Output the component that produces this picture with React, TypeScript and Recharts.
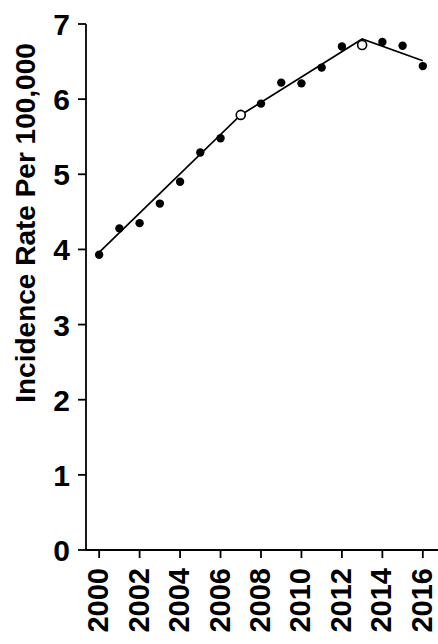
import React from 'react';
import { ScatterChart, Scatter, XAxis, YAxis } from 'recharts';

// observed incidence rates per year
const years = [2000, 2001, 2002, 2003, 2004, 2005, 2006, 2007, 2008, 2009, 2010, 2011, 2012, 2013, 2014, 2015, 2016];
const rates = [3.93, 4.28, 4.35, 4.61, 4.9, 5.29, 5.48, 5.79, 5.94, 6.22, 6.21, 6.42, 6.7, 6.72, 6.76, 6.71, 6.44];
// years drawn as open circles (joinpoints)
const openYears = [2007, 2013];

// fitted joinpoint segments
const fitYears = [2000, 2007, 2013, 2016];
const fitRates = [3.96, 5.79, 6.8, 6.51];

const xTicks = [2000, 2002, 2004, 2006, 2008, 2010, 2012, 2014, 2016];
const yTicks = [0, 1, 2, 3, 4, 5, 6, 7];
const yLabel = 'Incidence Rate Per 100,000';

const filled = years
  .map((year, i) => ({ year, rate: rates[i] }))
  .filter((d) => !openYears.includes(d.year));
const open = years
  .map((year, i) => ({ year, rate: rates[i] }))
  .filter((d) => openYears.includes(d.year));
const fit = fitYears.map((year, i) => ({ year, rate: fitRates[i] }));

const FONT = 'Liberation Sans, Arial, Helvetica, sans-serif';

const XTick = ({ x, y, payload }: any) => (
  <text
    transform={`translate(${x + 9},${y + 8}) rotate(-90)`}
    textAnchor="end"
    fontFamily={FONT}
    fontWeight="bold"
    fontSize={29}
    fill="#000"
  >
    {payload.value}
  </text>
);

const YTick = ({ x, y, payload }: any) => (
  <text
    x={x}
    y={y + 11}
    textAnchor="end"
    fontFamily={FONT}
    fontWeight="bold"
    fontSize={30}
    fill="#000"
  >
    {payload.value}
  </text>
);

const YLabel = () => (
  <text
    transform="translate(35,223) rotate(-90)"
    textAnchor="middle"
    fontFamily={FONT}
    fontWeight="bold"
    fontSize={28}
    fill="#000"
  >
    {yLabel}
  </text>
);

const Dot = ({ cx, cy }: any) => <circle cx={cx} cy={cy} r={4.2} fill="#000" />;
const OpenDot = ({ cx, cy }: any) => (
  <circle cx={cx} cy={cy} r={4.5} fill="#fff" stroke="#000" strokeWidth={1.6} />
);

const App: React.FC = () => {
  return (
    <div style={{ position: 'absolute', left: 0, top: 0, background: '#fff' }}>
      <ScatterChart width={438} height={644} margin={{ top: 24, right: 0, bottom: 0, left: 0 }}>
        <XAxis
          dataKey="year"
          type="number"
          domain={[1999.35, 2016.75]}
          ticks={xTicks}
          interval={0}
          height={94}
          tickSize={8}
          tick={<XTick />}
          stroke="#000"
          strokeWidth={1.8}
          tickLine={{ stroke: '#000', strokeWidth: 1.8 }}
        />
        <YAxis
          dataKey="rate"
          type="number"
          domain={[0, 7]}
          ticks={yTicks}
          width={86}
          tickSize={8}
          tickMargin={8}
          tick={<YTick />}
          stroke="#000"
          strokeWidth={1.8}
          tickLine={{ stroke: '#000', strokeWidth: 1.8 }}
          label={{ content: <YLabel /> }}
        />
        <Scatter
          data={fit}
          line={{ stroke: '#000', strokeWidth: 1.7 }}
          shape={() => <g />}
          isAnimationActive={false}
        />
        <Scatter data={filled} shape={<Dot />} isAnimationActive={false} />
        <Scatter data={open} shape={<OpenDot />} isAnimationActive={false} />
      </ScatterChart>
    </div>
  );
};

export default App;
